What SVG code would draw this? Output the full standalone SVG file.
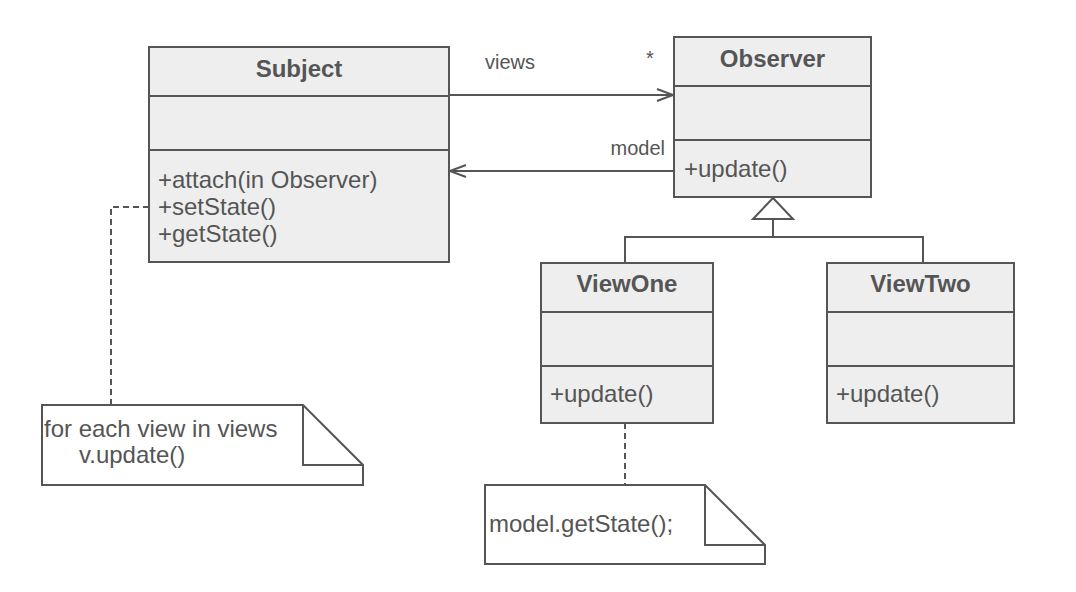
<svg xmlns="http://www.w3.org/2000/svg" width="1076" height="592" viewBox="0 0 1076 592">
<style>
.box{fill:#eeeeee;stroke:#555555;stroke-width:2}
.note{fill:#ffffff;stroke:#555555;stroke-width:2}
.ln{fill:none;stroke:#555555;stroke-width:2}
.dash{fill:none;stroke:#555555;stroke-width:2;stroke-dasharray:6 4}
.t{font-family:"Liberation Sans",Arial,Helvetica,sans-serif;fill:#555555}
.title{font-size:24px;font-weight:bold;text-anchor:middle}
.mem{font-size:24px}
.lbl{font-size:20px}
</style>
<defs>
<marker id="open" markerWidth="20" markerHeight="16" refX="17" refY="7" orient="auto" markerUnits="userSpaceOnUse">
<path d="M1,1 L17,7 L1,13" fill="none" stroke="#555555" stroke-width="2"/>
</marker>
</defs>
<g id="connectors">
<line class="ln" x1="449" y1="95" x2="673" y2="95" marker-end="url(#open)"/>
<line class="ln" x1="674" y1="171" x2="450" y2="171" marker-end="url(#open)"/>
<polygon class="note" points="773,198 753,219 793,219"/>
<polyline class="ln" points="773,219 773,237"/>
<polyline class="ln" points="625,263 625,237 923,237 923,263"/>
<polyline class="dash" points="149,207 111,207 111,405"/>
<line class="dash" x1="625" y1="423" x2="625" y2="485"/>
<text class="t lbl" x="485" y="69">views</text>
<text class="t lbl" x="646" y="65">*</text>
<text class="t lbl" x="665" y="155" text-anchor="end">model</text>
</g>
<g id="Subject">
<rect class="box" x="149" y="47" width="300" height="215"/>
<line class="ln" x1="149" y1="96" x2="449" y2="96"/>
<line class="ln" x1="149" y1="150" x2="449" y2="150"/>
<text class="t title" x="299" y="77">Subject</text>
<text class="t mem" x="158" y="188">+attach(in Observer)</text>
<text class="t mem" x="158" y="215">+setState()</text>
<text class="t mem" x="158" y="242">+getState()</text>
</g>
<g id="Observer">
<rect class="box" x="674" y="37" width="197" height="160"/>
<line class="ln" x1="674" y1="86" x2="871" y2="86"/>
<line class="ln" x1="674" y1="140" x2="871" y2="140"/>
<text class="t title" x="772.5" y="67">Observer</text>
<text class="t mem" x="684" y="177">+update()</text>
</g>
<g id="ViewOne">
<rect class="box" x="541" y="263" width="172" height="160"/>
<line class="ln" x1="541" y1="312" x2="713" y2="312"/>
<line class="ln" x1="541" y1="366" x2="713" y2="366"/>
<text class="t title" x="627" y="292">ViewOne</text>
<text class="t mem" x="550" y="402">+update()</text>
</g>
<g id="ViewTwo">
<rect class="box" x="827" y="263" width="187" height="160"/>
<line class="ln" x1="827" y1="312" x2="1014" y2="312"/>
<line class="ln" x1="827" y1="366" x2="1014" y2="366"/>
<text class="t title" x="920.5" y="292">ViewTwo</text>
<text class="t mem" x="836" y="402">+update()</text>
</g>
<g id="note1">
<path class="note" d="M42,405 L303,405 L363,465 L363,485 L42,485 Z"/>
<polyline class="ln" points="303,405 303,465 363,465"/>
<text class="t mem" x="44" y="437">for each view in views</text>
<text class="t mem" x="79" y="463">v.update()</text>
</g>
<g id="note2">
<path class="note" d="M485,485 L705,485 L765,545 L765,564 L485,564 Z"/>
<polyline class="ln" points="705,485 705,545 765,545"/>
<text class="t mem" x="489" y="532">model.getState();</text>
</g>
</svg>
